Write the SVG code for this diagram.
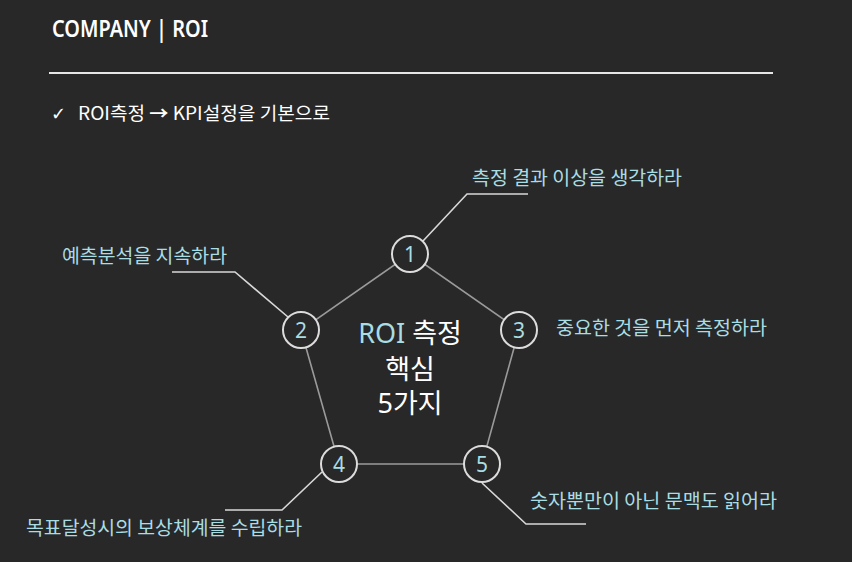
<svg xmlns="http://www.w3.org/2000/svg" width="852" height="562" viewBox="0 0 852 562">
<style>
.t{font-family:"Noto Sans","Noto Sans CJK KR",sans-serif}
.lab{font-family:"Noto Sans CJK KR","Noto Sans",sans-serif;font-size:19px;fill:#a9dde4}
.num{font-family:"Noto Sans","Noto Sans CJK KR",sans-serif;font-size:21px;fill:#a9dde4;text-anchor:middle}
.ring{fill:#282828;stroke:#dcdcdc;stroke-width:2}
.edge{stroke:#9a9a9a;stroke-width:1.6;fill:none}
.lead{stroke:#d8d8d8;stroke-width:1.6;fill:none}
</style>
<rect width="852" height="562" fill="#282828"/>
<text class="t" x="52" y="37" font-size="23" font-weight="600" fill="#ffffff" textLength="156" lengthAdjust="spacingAndGlyphs">COMPANY | ROI</text>
<line x1="49" y1="73" x2="773" y2="73" stroke="#e6e6e6" stroke-width="2"/>
<text x="51" y="120" font-family="'DejaVu Sans',sans-serif" font-size="18" fill="#ffffff">✓</text>
<text x="78" y="120" font-family="'Noto Sans CJK KR','Noto Sans',sans-serif" font-size="18" fill="#ffffff" textLength="252" lengthAdjust="spacingAndGlyphs">ROI측정 <tspan font-weight="bold">→</tspan> KPI설정을 기본으로</text>
<g id="connectors">
<path class="edge" d="M410,254 L301,330 L339,464 L482,464 L519,330 Z"/>
<polyline class="lead" points="423,241 467,194 528,194"/>
<polyline class="lead" points="288,317 235,272 172,272"/>
<polyline class="lead" points="322,472 282,510 225,510"/>
<polyline class="lead" points="482,483 526,524 586,524"/>
</g>
<g id="center">
<text class="t" x="410" y="343" font-size="27" text-anchor="middle" fill="#ffffff"><tspan fill="#a9dde4">ROI</tspan> 측정</text>
<text class="t" x="410" y="379" font-size="27" text-anchor="middle" fill="#ffffff">핵심</text>
<text class="t" x="410" y="413" font-size="27" text-anchor="middle" fill="#ffffff">5가지</text>
</g>
<g id="node1"><circle class="ring" cx="410" cy="254" r="18"/><text class="num" x="410" y="261.5">1</text><text class="lab" x="472" y="185" textLength="210" lengthAdjust="spacingAndGlyphs">측정 결과 이상을 생각하라</text></g>
<g id="node2"><circle class="ring" cx="301" cy="330" r="18"/><text class="num" x="301" y="337.5">2</text><text class="lab" x="62" y="263" textLength="165" lengthAdjust="spacingAndGlyphs">예측분석을 지속하라</text></g>
<g id="node3"><circle class="ring" cx="519" cy="330" r="18"/><text class="num" x="519" y="337.5">3</text><text class="lab" x="556" y="335" textLength="211" lengthAdjust="spacingAndGlyphs">중요한 것을 먼저 측정하라</text></g>
<g id="node4"><circle class="ring" cx="339" cy="464" r="18"/><text class="num" x="339" y="471.5">4</text><text class="lab" x="26" y="535" textLength="276" lengthAdjust="spacingAndGlyphs">목표달성시의 보상체계를 수립하라</text></g>
<g id="node5"><circle class="ring" cx="482" cy="464" r="18"/><text class="num" x="482" y="471.5">5</text><text class="lab" x="530" y="508" textLength="247" lengthAdjust="spacingAndGlyphs">숫자뿐만이 아닌 문맥도 읽어라</text></g>
</svg>
